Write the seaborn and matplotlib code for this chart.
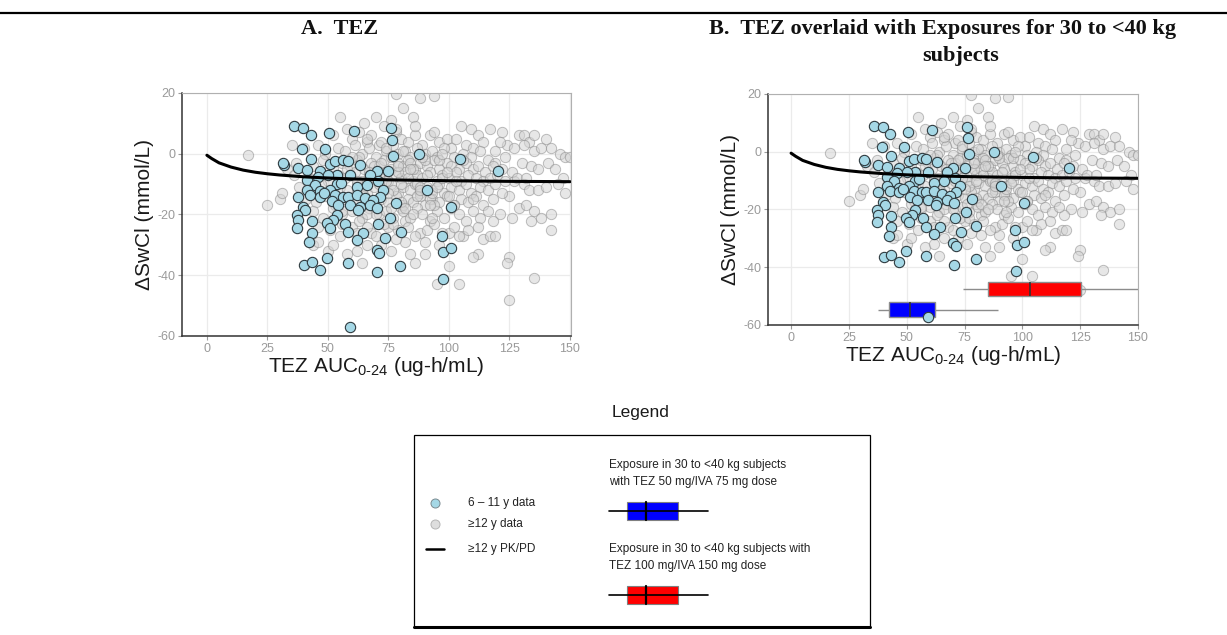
import matplotlib
matplotlib.use("Agg")
import matplotlib.pyplot as plt
from matplotlib.patches import Rectangle
from matplotlib.lines import Line2D
import numpy as np
import pandas as pd
import seaborn as sns

blue_x = [36, 39.6, 42.9, 50.5, 60.8, 75.9, 76.3, 39.2, 49, 43, 76.9, 87.8, 104.5, 32, 120.2,
          37.8, 41.3, 46.8, 50.9, 53, 56.4, 58.4, 63.3, 70.2, 75, 67.4, 59.1, 53.6, 50.2, 46,
          41.3, 44.7, 53.6, 61.9, 66, 70.8, 72.9, 50.9, 46.8, 41.3, 37.8, 42.6, 46.8, 53, 56.4,
          58.4, 61.9, 65.3, 71.5, 68.8, 51.6, 54.3, 59.1, 63.3, 67.4, 70.4, 78.3, 39.9, 40.5,
          100.8, 90.8, 37.1, 37.8, 43.3, 53.6, 52.2, 62.6, 75.6, 37.1, 49.5, 50.9, 57.1, 58.4,
          64.6, 70.8, 43.3, 61.9, 73.6, 80.1, 42.2, 97, 70.2, 71.3, 97.7, 100.7, 49.5, 40.3,
          43.3, 46.8, 58.4, 79.8, 70.4, 97.4, 59.1, 31.5, 55.5, 48.5]
blue_y = [9.0, 8.5, 6.3, 6.8, 7.4, 8.5, 4.6, 1.6, 1.6, -1.6, -0.7, -0.2, -1.8, -3.6, -5.6,
          -4.7, -5.3, -5.8, -3.3, -2.5, -2.0, -2.5, -3.7, -5.8, -5.6, -6.9, -6.9, -6.9, -6.9, -7.5,
          -8.6, -10.2, -10.0, -10.8, -10.2, -9.1, -11.9, -11.9, -12.4, -11.9, -14.1, -13.5, -14.1, -13.5, -14.1,
          -14.1, -13.5, -14.6, -14.1, -15.2, -15.7, -16.8, -16.8, -17.4, -16.8, -17.9, -16.3, -17.4, -18.5,
          -17.7, -11.9, -20.1, -21.8, -22.3, -20.1, -21.8, -18.5, -21.0, -24.5, -22.9, -24.5, -23.1, -25.9,
          -26.2, -23.1, -26.2, -28.4, -27.8, -25.8, -29.2, -27.0, -31.6, -32.7, -32.4, -31.1, -34.4, -36.6,
          -35.8, -38.2, -36.0, -37.1, -39.1, -41.2, -57.1, -3.0, -9.5, -12.8]

# observed data, >=12 y (grey)
grey_x = [17, 25, 30, 31, 33, 35, 78, 88, 94, 81, 76, 85, 55, 65, 70,
          105, 109, 112, 117, 122, 129, 131, 133, 135, 140, 124, 127, 131, 135, 138, 142, 146, 148, 150,
          130, 134, 137, 141, 144, 147, 127, 131, 133, 137, 140, 145, 148, 125, 129, 132, 135, 138, 142,
          134, 126, 121, 118, 142, 125, 124, 135, 125, 114, 117, 119, 112, 110, 106, 104, 100, 95, 104,
          100, 96, 90, 90, 86, 84, 82, 88,
          44, 46, 50, 52, 58, 62, 64, 66, 72, 76, 78, 55, 60, 68, 75, 82, 80,
          52, 58, 60, 63, 66, 68, 71, 73, 78, 80, 83, 86, 89, 92, 96, 99, 101, 103, 107, 110, 114, 119, 121,
          40, 46, 49, 54, 57, 61, 64, 67, 70, 74, 77, 79, 82, 84, 87, 90, 93, 95, 98, 102, 106, 109, 113,
          116, 119, 123,
          37, 44, 48, 52, 56, 59, 62, 65, 68, 71, 73, 76, 79, 81, 83, 86, 88, 91, 94, 96, 99, 101, 104,
          107, 110, 112, 115, 118, 122, 126,
          36, 42, 47, 50, 54, 57, 61, 64, 67, 70, 72, 75, 78, 80, 82, 85, 87, 89, 92, 95, 97, 100, 103,
          105, 108, 111, 114, 117, 120, 123, 128, 132,
          38, 43, 47, 51, 55, 58, 62, 66, 69, 73, 76, 79, 81, 84, 86, 88, 91, 93, 96, 98, 101, 104, 107,
          109, 113, 116, 119, 122,
          41, 45, 49, 53, 57, 61, 65, 69, 72, 75, 78, 81, 83, 85, 88, 90, 93, 96, 99, 102, 105, 108, 111,
          114, 118,
          44, 48, 52, 56, 60, 64, 67, 71, 74, 77, 81, 84, 87, 89, 92, 95, 98, 101, 104, 107, 110, 113, 116,
          46, 51, 56, 62, 66, 70, 73, 79, 83, 86, 91, 94, 97, 102, 108, 112,
          63, 69, 74, 77, 84, 87, 92, 97, 72, 80, 85, 90, 66, 79, 93, 76, 82, 88, 71, 94,
          58, 62, 67, 71, 75, 79, 83, 87, 91, 95, 99, 103, 60, 64, 68, 72, 76, 80, 84, 88,
          92, 96, 100, 56, 63, 70, 77, 85, 93, 102, 110, 74, 81, 89, 97, 106, 66, 78, 86, 94]
grey_y = [-0.5, -17, -15, -13, -5, 3, 19.5, 18.5, 19, 15, 11, 12, 12, 10, 12,
          9, 8, 6, 8, 7, 6, 6, 4, 6, 5, 3, 2, 3, 1, 2, 2, 0, -1, -1,
          -3, -4, -5, -3, -5, -8, -9, -10, -12, -12, -11, -10, -13, -14, -18, -17, -19, -21, -20,
          -22, -21, -20, -22, -25, -34, -36, -41, -48, -28, -27, -27, -33, -34, -27, -27, -37, -43, -43,
          -26, -30, -33, -29, -36, -33, -29, -26,
          -30, -29, -32, -30, -33, -32, -36, -30, -30, -32, -28, -27, -24, -26, -24, -22, -18,
          6, 8, 5, 7, 4, 6, 3, 9, 7, 5, 4, 6, 3, 6, 4, 5, 2, 5, 3, 2, 4, 1, 4,
          2, 3, 0, 2, 1, 3, 0, 2, -1, 1, 3, 0, 1, -1, 2, 0, 1, -1, 2, -1, 0, -1, 1,
          -2, -3, -1,
          -3, -4, -2, -5, -3, -4, -2, -5, -3, -4, -2, -5, -3, -4, -2, -5, -3, -4, -2, -5, -3, -4, -5,
          -3, -5, -4, -6, -4, -5, -6,
          -7, -8, -6, -9, -7, -8, -6, -9, -7, -8, -6, -9, -7, -8, -6, -9, -7, -8, -6, -9, -7, -8, -6,
          -9, -7, -8, -9, -8, -7, -9, -8, -8,
          -11, -12, -10, -13, -11, -12, -10, -13, -11, -12, -10, -13, -11, -12, -10, -13, -11, -12, -10,
          -13, -11, -12, -10, -13, -11, -12, -10, -13,
          -15, -16, -14, -17, -15, -16, -14, -17, -15, -16, -14, -17, -15, -16, -14, -17, -15, -16, -14,
          -17, -15, -16, -14, -17, -15,
          -19, -21, -18, -20, -19, -21, -18, -20, -19, -21, -19, -21, -18, -20, -22, -19, -21, -18, -20,
          -22, -19, -21, -19,
          -24, -25, -23, -26, -24, -27, -23, -25, -24, -27, -25, -23, -26, -24, -25, -24,
          -1, -4, -9, -12, -3, -10, -15, -8, 4, -16, -5, -2, -20, -6, -13, -1, -18, -11, -7, -17,
          -5, -9, -6, -10, -13, -4, -8, -14, -7, -11, -6, -9, -1, -12, -16, -3, -18, -10, -5, -12,
          -17, -2, -14, -19, -22, -20, -23, -20, -21, -17, -15, 2, 1, -1, 0, -2, 5, 8, 9, 7]

# >=12 y PK/PD model curve
pkpd_x = [0, 2, 5, 10, 15, 20, 25, 30, 40, 50, 60, 75, 100, 125, 150]
pkpd_y = [-0.5, -1.6, -3.0, -4.4, -5.4, -6.1, -6.6, -7.0, -7.6, -8.0, -8.3, -8.6, -8.9, -9.1, -9.2]

# simulated exposure in 30 to <40 kg subjects (whisker low, Q1, median, Q3, whisker high)
dose_labels = ["TEZ 50 mg/IVA 75 mg", "TEZ 100 mg/IVA 150 mg"]
dose_level = [-54.7, -47.5]
dose_auc = [[37.4, 42.4, 51.4, 62.2, 89.5], [74.4, 85.2, 103.5, 125.2, 160.0]]
dose_colors = ["#0000ff", "#ff0000"]

sns.set_theme(style="whitegrid")
plt.rcParams["font.family"] = ["Liberation Sans", "DejaVu Sans"]
plt.rcParams["mathtext.fontset"] = "custom"
plt.rcParams["mathtext.rm"] = "Liberation Sans"
plt.rcParams["mathtext.it"] = "Liberation Sans:italic"
plt.rcParams["axes.unicode_minus"] = False

grey_df = pd.DataFrame({"auc": grey_x, "dswcl": grey_y})
blue_df = pd.DataFrame({"auc": blue_x, "dswcl": blue_y})
pkpd_df = pd.DataFrame({"auc": pkpd_x, "dswcl": pkpd_y})
box_df = pd.DataFrame(
    [(a, lvl, lab) for lab, lvl, vals in zip(dose_labels, dose_level, dose_auc) for a in vals],
    columns=["auc", "level", "dose"],
)

fig = plt.figure(figsize=(12.27, 6.35), dpi=100)
ax_a = fig.add_axes([0.1483, 0.4709, 0.3170, 0.3827])
ax_b = fig.add_axes([0.6259, 0.4882, 0.3015, 0.3638])


def style_panel(ax, xlim):
    ax.set_xlim(*xlim)
    ax.set_ylim(-60, 20)
    ax.set_xticks([0, 25, 50, 75, 100, 125, 150])
    ax.set_yticks([-60, -40, -20, 0, 20])
    ax.grid(True, color="#ebebeb", linewidth=0.9)
    ax.set_axisbelow(True)
    ax.set_facecolor("white")
    for side in ["top", "right"]:
        ax.spines[side].set_color("#b0b0b0")
        ax.spines[side].set_linewidth(0.8)
    for side in ["left", "bottom"]:
        ax.spines[side].set_color("#333333")
        ax.spines[side].set_linewidth(1.1)
    ax.tick_params(axis="both", labelsize=9, labelcolor="#9a9a9a", color="#9a9a9a",
                   length=3, width=0.8, pad=2, bottom=True, left=True)
    ax.set_xlabel(r"TEZ AUC$_{\mathrm{0\text{-}24}}$ (ug-h/mL)", fontsize=15, labelpad=0, color="#1a1a1a")
    ax.set_ylabel("ΔSwCl (mmol/L)", fontsize=15, labelpad=2, color="#1a1a1a")


def scatter_layers(ax, with_boxes):
    sns.scatterplot(data=grey_df, x="auc", y="dswcl", ax=ax, s=55, color="#d4d4d4",
                    edgecolor="#8a8a8a", linewidth=0.7, alpha=0.55, zorder=2)
    if with_boxes:
        sns.boxplot(data=box_df, x="auc", y="level", hue="dose", orient="y", native_scale=True,
                    palette=dict(zip(dose_labels, dose_colors)), width=0.7, whis=10,
                    showfliers=False, showcaps=False, dodge=False, legend=False, saturation=1, ax=ax,
                    linecolor="#8c8c8c", linewidth=1.0,
                    medianprops=dict(color="#333333", linewidth=1.2), zorder=3)
    sns.scatterplot(data=blue_df, x="auc", y="dswcl", ax=ax, s=55, color="#a5d8e6",
                    edgecolor="#2f3b40", linewidth=0.8, zorder=4)
    sns.lineplot(data=pkpd_df, x="auc", y="dswcl", ax=ax, color="black", linewidth=2.2, zorder=5)


scatter_layers(ax_a, False)
style_panel(ax_a, (-10.3, 150.4))
scatter_layers(ax_b, True)
style_panel(ax_b, (-10, 150))

# titles
title_font = dict(family=["Liberation Serif", "DejaVu Serif"], fontsize=16, fontweight="bold", color="#111111")
fig.text(340 / 1227, 1 - 29 / 635, "A.  TEZ", ha="center", va="center", **title_font)
fig.text(943 / 1227, 1 - 29 / 635, "B.  TEZ overlaid with Exposures for 30 to <40 kg", ha="center", va="center",
         **title_font)
fig.text(961 / 1227, 1 - 56 / 635, "subjects", ha="center", va="center", **title_font)
fig.add_artist(Line2D([0, 1], [1 - 13 / 635, 1 - 13 / 635], color="black", linewidth=1.6))

# legend panel
W, H = 1227, 635


def fx(px):
    return px / W


def fy(py):
    return 1 - py / H


fig.text(fx(641), fy(413), "Legend", ha="center", va="center", fontsize=12.5, color="#1a1a1a")
fig.add_artist(Rectangle((fx(414), fy(627)), fx(870) - fx(414), fy(435) - fy(627), fill=False,
                         edgecolor="black", linewidth=0.9))
fig.add_artist(Line2D([fx(414), fx(870)], [fy(627), fy(627)], color="black", linewidth=2.2))

fig.add_artist(Line2D([fx(435)], [fy(503)], marker="o", markersize=6.5, markerfacecolor="#a5d8e6",
                      markeredgecolor="#7a8a90", markeredgewidth=0.7, linestyle="none"))
fig.add_artist(Line2D([fx(435)], [fy(524)], marker="o", markersize=6.5, markerfacecolor="#dedede",
                      markeredgecolor="#b5b5b5", markeredgewidth=0.7, linestyle="none"))
fig.add_artist(Line2D([fx(426), fx(444)], [fy(549), fy(549)], color="black", linewidth=1.8))
leg_txt = dict(fontsize=8.5, color="#222222", va="center", ha="left")
fig.text(fx(468), fy(503), "6 – 11 y data", **leg_txt)
fig.text(fx(468), fy(524), "≥12 y data", **leg_txt)
fig.text(fx(468), fy(549), "≥12 y PK/PD", **leg_txt)

fig.text(fx(609), fy(465), "Exposure in 30 to <40 kg subjects", **leg_txt)
fig.text(fx(609), fy(482), "with TEZ 50 mg/IVA 75 mg dose", **leg_txt)
fig.text(fx(609), fy(549), "Exposure in 30 to <40 kg subjects with", **leg_txt)
fig.text(fx(609), fy(566), "TEZ 100 mg/IVA 150 mg dose", **leg_txt)

for cy, col in [(511, dose_colors[0]), (595, dose_colors[1])]:
    fig.add_artist(Line2D([fx(609), fx(708)], [fy(cy), fy(cy)], color="black", linewidth=1.2))
    fig.add_artist(Rectangle((fx(627), fy(cy + 9)), fx(678) - fx(627), fy(cy - 9) - fy(cy + 9),
                             facecolor=col, edgecolor="#7f7f7f", linewidth=0.8))
    fig.add_artist(Line2D([fx(646), fx(646)], [fy(cy + 9), fy(cy - 9)], color="black", linewidth=1.6))

fig.savefig("out.png", dpi=100)
